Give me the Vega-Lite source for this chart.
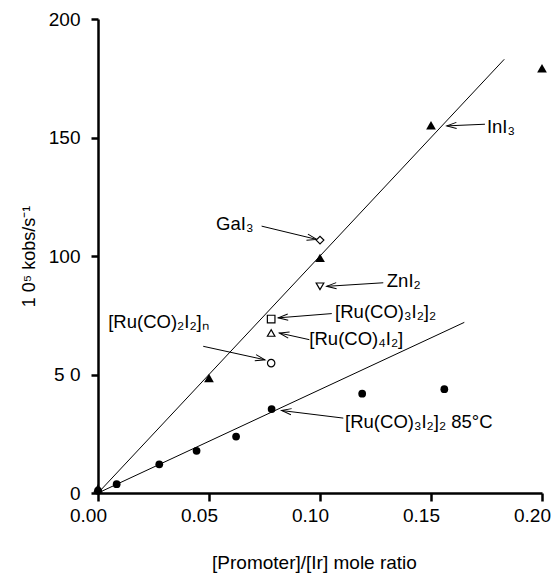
{
  "$schema": "https://vega.github.io/schema/vega-lite/v6.json",
  "autosize": "none",
  "width": 444,
  "height": 474,
  "padding": {"left": 98, "top": 19, "right": 11, "bottom": 80},
  "background": "white",
  "config": {
    "view": {"stroke": null},
    "font": "Liberation Sans",
    "axis": {
      "domainColor": "black", "domainWidth": 2.5, "tickColor": "black", "tickWidth": 2.5,
      "labelColor": "black", "labelFont": "Liberation Sans", "labelFontSize": 19,
      "labelFlush": false, "labelOverlap": false,
      "titleColor": "black", "titleFont": "Liberation Sans", "titleFontSize": 18, "titleFontWeight": "normal",
      "grid": false
    }
  },
  "datasets": {
    "lines": [
      {"fit": "upper", "ratio": 0, "k": 0},
      {"fit": "upper", "ratio": 0.183, "k": 183},
      {"fit": "lower", "ratio": 0, "k": 0},
      {"fit": "lower", "ratio": 0.165, "k": 72}
    ],
    "points": [
      {"series": "InI3", "ratio": 0.0, "k": 2},
      {"series": "InI3", "ratio": 0.050, "k": 48.5},
      {"series": "InI3", "ratio": 0.100, "k": 99.2},
      {"series": "InI3", "ratio": 0.150, "k": 155.2},
      {"series": "InI3", "ratio": 0.200, "k": 179.2},
      {"series": "Ru85", "ratio": 0.0, "k": 1},
      {"series": "Ru85", "ratio": 0.0084, "k": 3.7},
      {"series": "Ru85", "ratio": 0.0276, "k": 12.1},
      {"series": "Ru85", "ratio": 0.0444, "k": 17.8},
      {"series": "Ru85", "ratio": 0.0622, "k": 23.8},
      {"series": "Ru85", "ratio": 0.0782, "k": 35.4},
      {"series": "Ru85", "ratio": 0.119, "k": 41.9},
      {"series": "Ru85", "ratio": 0.156, "k": 43.8},
      {"series": "GaI3", "ratio": 0.100, "k": 106.7},
      {"series": "ZnI2", "ratio": 0.100, "k": 87.2},
      {"series": "Ru3", "ratio": 0.078, "k": 73.4},
      {"series": "Ru4", "ratio": 0.078, "k": 67.5},
      {"series": "Ru2n", "ratio": 0.078, "k": 54.8}
    ],
    "labels": [
      {"text": "GaI₃", "ratio": 0.0532, "k": 110.9},
      {"text": "ZnI₂", "ratio": 0.1301, "k": 87.0},
      {"text": "[Ru(CO)₃I₂]₂", "ratio": 0.1068, "k": 73.9},
      {"text": "[Ru(CO)₄I₂]", "ratio": 0.0952, "k": 62.5},
      {"text": "[Ru(CO)₂I₂]ₙ", "ratio": 0.0046, "k": 69.6},
      {"text": "InI₃", "ratio": 0.1752, "k": 152.1},
      {"text": "[Ru(CO)₃I₂]₂ 85°C", "ratio": 0.1113, "k": 27.3}
    ],
    "arrows": [
      {"ratio": 0.0737, "k": 112.6, "tipRatio": 0.0985, "tipK": 107.0},
      {"ratio": 0.1285, "k": 88.7, "tipRatio": 0.1030, "tipK": 87.2},
      {"ratio": 0.1053, "k": 75.7, "tipRatio": 0.0812, "tipK": 73.9},
      {"ratio": 0.0952, "k": 64.7, "tipRatio": 0.0817, "tipK": 67.5},
      {"ratio": 0.0474, "k": 61.9, "tipRatio": 0.0752, "tipK": 56.2},
      {"ratio": 0.1743, "k": 155.6, "tipRatio": 0.1571, "tipK": 154.9},
      {"ratio": 0.1105, "k": 31.6, "tipRatio": 0.0827, "tipK": 34.8}
    ]
  },
  "encoding": {
    "x": {"field": "ratio", "type": "quantitative",
      "scale": {"domain": [0, 0.2], "nice": false, "zero": false},
      "axis": {"values": [0, 0.05, 0.1, 0.15, 0.2], "format": ".2f", "tickSize": 8, "labelPadding": 5, "labelOffset": -10,
        "title": "[Promoter]/[Ir] mole ratio", "titlePadding": 28, "titleFontSize": 19, "titleX": 216}},
    "y": {"field": "k", "type": "quantitative",
      "scale": {"domain": [0, 200], "nice": false},
      "axis": {"values": [0, 50, 100, 150, 200], "tickSize": 7, "labelPadding": 11,
        "labelExpr": "datum.value == 50 ? '5 0' : datum.label",
        "title": "1 0⁵ kobs/s⁻¹", "titlePadding": 10}}
  },
  "layer": [
    {
      "data": {"name": "lines"},
      "mark": {"type": "line", "color": "black", "strokeWidth": 1, "clip": false},
      "encoding": {"detail": {"field": "fit"}}
    },
    {
      "data": {"name": "arrows"},
      "mark": {"type": "rule", "color": "black", "strokeWidth": 1},
      "encoding": {
        "x2": {"field": "tipRatio"},
        "y2": {"field": "tipK"}
      }
    },
    {
      "data": {"name": "arrows"},
      "transform": [
        {"calculate": "atan2(-(datum.tipK - datum.k) * 2.37, (datum.tipRatio - datum.ratio) * 2220) * 180 / PI", "as": "dir"}
      ],
      "mark": {"type": "point", "shape": "M -1 -0.32 L 0 0 L -1 0.32", "filled": false, "stroke": "black", "strokeWidth": 1, "size": 380, "opacity": 1},
      "encoding": {
        "x": {"field": "tipRatio", "type": "quantitative"},
        "y": {"field": "tipK", "type": "quantitative"},
        "angle": {"field": "dir", "type": "quantitative", "scale": null}
      }
    },
    {
      "data": {"name": "points"},
      "transform": [{"filter": "datum.series == 'InI3'"}],
      "mark": {"type": "point", "shape": "triangle-up", "filled": true, "color": "black", "size": 95, "opacity": 1}
    },
    {
      "data": {"name": "points"},
      "transform": [{"filter": "datum.series == 'Ru85'"}],
      "mark": {"type": "point", "shape": "circle", "filled": true, "color": "black", "size": 60, "opacity": 1}
    },
    {
      "data": {"name": "points"},
      "transform": [{"filter": "datum.series != 'InI3' && datum.series != 'Ru85'"}],
      "mark": {"type": "point", "filled": false, "stroke": "black", "fill": "white", "strokeWidth": 1.2, "opacity": 1},
      "encoding": {
        "shape": {"field": "series", "type": "nominal", "legend": null,
          "scale": {"domain": ["GaI3", "ZnI2", "Ru3", "Ru4", "Ru2n"], "range": ["diamond", "triangle-down", "square", "triangle-up", "circle"]}},
        "size": {"field": "series", "type": "nominal", "legend": null,
          "scale": {"domain": ["GaI3", "ZnI2", "Ru3", "Ru4", "Ru2n"], "range": [60, 55, 70, 50, 40]}}
      }
    },
    {
      "data": {"name": "labels"},
      "mark": {"type": "text", "align": "left", "baseline": "alphabetic", "font": "Liberation Sans", "fontSize": 18.5, "color": "black"},
      "encoding": {"text": {"field": "text"}}
    }
  ]
}
